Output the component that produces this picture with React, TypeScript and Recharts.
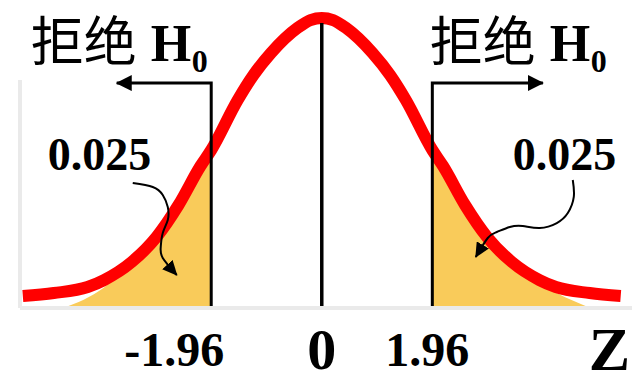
import React from 'react';
import {
  ComposedChart,
  Line,
  Area,
  XAxis,
  YAxis,
  ReferenceLine,
  ReferenceDot,
  Label,
} from 'recharts';

// Standard-normal style density curve (z, height)
const curveZ = [
  -5.3, -4.75, -4.15, -3.86, -3.37, -2.93, -2.54, -2.15, -1.96, -1.49, -1.21, -0.9, -0.43, -0.2, 0,
  0.2, 0.43, 0.9, 1.21, 1.49, 1.96, 2.15, 2.54, 2.93, 3.37, 3.86, 4.15, 4.75, 5.3,
];
const curveDensity = [
  0.0158, 0.0197, 0.0276, 0.0368, 0.0605, 0.0934, 0.1355, 0.1868, 0.2079, 0.2737, 0.3066, 0.3355,
  0.3685, 0.3789, 0.3816, 0.3789, 0.3685, 0.3355, 0.3066, 0.2737, 0.2079, 0.1868, 0.1355, 0.0934,
  0.0605, 0.0368, 0.0276, 0.0197, 0.0158,
];

// Rejection regions (alpha/2 = 0.025 in each tail)
const leftTailZ = [-4.58, -3.86, -3.37, -2.93, -2.54, -2.15, -1.96];
const leftTailDensity = [0, 0.027, 0.0605, 0.0934, 0.1355, 0.1868, 0.2079];
const rightTailZ = [1.96, 2.15, 2.54, 2.93, 3.37, 3.86, 4.77];
const rightTailDensity = [0.2079, 0.1868, 0.1355, 0.0934, 0.0605, 0.033, 0];

const criticalValue = 1.96;
const tailProbability = '0.025';
const xTicks = [-criticalValue, 0, criticalValue];
const yTicks = [0, 0.03, 0.06, 0.09, 0.12, 0.15, 0.18, 0.21, 0.24, 0.27, 0.3];

// Bracket arrows pointing into each rejection region
const rejectLeftPath = [
  { z: -1.96, v: 0 },
  { z: -1.96, v: 0.296 },
  { z: -3.635, v: 0.296 },
];
const rejectRightPath = [
  { z: 1.96, v: 0 },
  { z: 1.96, v: 0.296 },
  { z: 3.92, v: 0.296 },
];
const centerPath = [
  { z: 0, v: 0 },
  { z: 0, v: 0.375 },
];

// Curved pointers from the probability labels into the shaded tails
const pointerLeft = [
  { z: -3.351, v: 0.1645 },
  { z: -2.996, v: 0.1592 },
  { z: -2.819, v: 0.1487 },
  { z: -2.73, v: 0.1329 },
  { z: -2.73, v: 0.1158 },
  { z: -2.819, v: 0.0987 },
  { z: -2.855, v: 0.0803 },
  { z: -2.819, v: 0.0658 },
  { z: -2.571, v: 0.0434 },
];
const pointerRight = [
  { z: 4.45, v: 0.1684 },
  { z: 4.468, v: 0.1461 },
  { z: 4.362, v: 0.125 },
  { z: 4.167, v: 0.1118 },
  { z: 3.865, v: 0.1053 },
  { z: 3.564, v: 0.1079 },
  { z: 3.333, v: 0.1066 },
  { z: 3.103, v: 0.1 },
  { z: 2.943, v: 0.0921 },
  { z: 2.73, v: 0.0671 },
];

// Merge the series into one table keyed by z
const rows = (() => {
  const map = new Map<number, any>();
  const put = (z: number, key: string, val: number) => {
    const row = map.get(z) || { z };
    row[key] = val;
    map.set(z, row);
  };
  curveZ.forEach((z, i) => put(z, 'density', curveDensity[i]));
  leftTailZ.forEach((z, i) => put(z, 'tailL', leftTailDensity[i]));
  rightTailZ.forEach((z, i) => put(z, 'tailR', rightTailDensity[i]));
  return Array.from(map.values()).sort((a, b) => a.z - b.z);
})();

const SERIF = "'Liberation Serif', 'Times New Roman', serif";
const CJK = "'Noto Sans CJK SC', 'Noto Sans CJK JP', sans-serif";
const AXIS_GRAY = '#EAEAEA';
const TAIL_COLOR = '#F9CB5A';

const RejectLabel = (props: any) => {
  const { x, y } = props.viewBox;
  return (
    <g>
      <text x={x} y={y} fontFamily={CJK} fontSize={53} fill="#000">
        拒绝
      </text>
      <text x={x + 120} y={y} fontFamily={SERIF} fontWeight="bold" fontSize={52} fill="#000">
        H
      </text>
      <text x={x + 161} y={y + 11} fontFamily={SERIF} fontWeight="bold" fontSize={32} fill="#000">
        0
      </text>
    </g>
  );
};

const ProbLabel = (props: any) => {
  const { x, y } = props.viewBox;
  return (
    <text x={x} y={y} fontFamily={SERIF} fontWeight="bold" fontSize={46} fill="#000">
      {tailProbability}
    </text>
  );
};

const BottomTick = (props: any) => {
  const { x, y, payload } = props;
  const value = payload.value as number;
  const isZero = value === 0;
  const shift = value < 0 ? -37 : value > 0 ? -5 : 0;
  const text = isZero ? '0' : value < 0 ? `-${criticalValue}` : `${criticalValue}`;
  return (
    <text
      x={x + shift}
      y={y + (isZero ? 61 : 58)}
      textAnchor="middle"
      fontFamily={SERIF}
      fontWeight="bold"
      fontSize={isZero ? 58 : 48}
      fill="#000"
    >
      {text}
    </text>
  );
};

const AxisName = (props: any) => {
  const { x, y, width } = props.viewBox;
  return (
    <text
      x={x + width - 2}
      y={y + 62}
      textAnchor="end"
      fontFamily={SERIF}
      fontWeight="bold"
      fontSize={62}
      fill="#000"
    >
      Z
    </text>
  );
};

export default function App() {
  return (
    <div
      style={{
        position: 'fixed',
        left: 0,
        top: 0,
        width: 633,
        height: 376,
        background: '#ffffff',
        overflow: 'hidden',
      }}
    >
      <svg width={0} height={0} style={{ position: 'absolute' }}>
        <defs>
          <marker
            id="headBig"
            markerUnits="userSpaceOnUse"
            viewBox="0 0 16 16"
            markerWidth="16"
            markerHeight="16"
            refX="15"
            refY="8"
            orient="auto"
          >
            <path d="M0,0 L16,8 L0,16 Z" fill="#000" />
          </marker>
          <marker
            id="headSmall"
            markerUnits="userSpaceOnUse"
            viewBox="0 0 15 14"
            markerWidth="15"
            markerHeight="14"
            refX="14"
            refY="7"
            orient="auto"
          >
            <path d="M0,0 L15,7 L0,14 Z" fill="#000" />
          </marker>
        </defs>
      </svg>
      <ComposedChart
        width={633}
        height={376}
        data={rows}
        margin={{ top: 4, right: 1, bottom: 0, left: 0 }}
      >
        <XAxis
          dataKey="z"
          type="number"
          domain={[-5.35, 5.5]}
          allowDataOverflow
          ticks={xTicks}
          interval={0}
          tickLine={false}
          tickSize={0}
          tickMargin={0}
          tick={<BottomTick />}
          axisLine={{ stroke: AXIS_GRAY, strokeWidth: 4 }}
          height={68}
          label={<Label content={<AxisName />} />}
        />
        <YAxis
          type="number"
          domain={[0, 0.4]}
          allowDataOverflow
          ticks={yTicks}
          interval={0}
          width={20}
          axisLine={false}
          tick={false}
          tickSize={7}
          tickLine={{ stroke: AXIS_GRAY, strokeWidth: 3 }}
        />
        <ReferenceLine
          segment={[
            { x: -5.35, y: 0 },
            { x: -5.35, y: 0.3 },
          ]}
          stroke={AXIS_GRAY}
          strokeWidth={4}
          ifOverflow="visible"
        />
        <Area
          dataKey="tailL"
          type="monotone"
          stroke="none"
          fill={TAIL_COLOR}
          fillOpacity={1}
          connectNulls
          isAnimationActive={false}
        />
        <Area
          dataKey="tailR"
          type="monotone"
          stroke="none"
          fill={TAIL_COLOR}
          fillOpacity={1}
          connectNulls
          isAnimationActive={false}
        />
        <Line
          dataKey="density"
          type="monotone"
          stroke="#FF0000"
          strokeWidth={12}
          dot={false}
          connectNulls
          isAnimationActive={false}
        />
        <Line
          data={centerPath}
          dataKey="v"
          type="linear"
          stroke="#000"
          strokeWidth={3.5}
          dot={false}
          isAnimationActive={false}
        />
        <Line
          data={rejectLeftPath}
          dataKey="v"
          type="linear"
          stroke="#000"
          strokeWidth={3}
          dot={false}
          markerEnd="url(#headBig)"
          isAnimationActive={false}
        />
        <Line
          data={rejectRightPath}
          dataKey="v"
          type="linear"
          stroke="#000"
          strokeWidth={3}
          dot={false}
          markerEnd="url(#headBig)"
          isAnimationActive={false}
        />
        <Line
          data={pointerLeft}
          dataKey="v"
          type="natural"
          stroke="#000"
          strokeWidth={2}
          dot={false}
          markerEnd="url(#headSmall)"
          isAnimationActive={false}
        />
        <Line
          data={pointerRight}
          dataKey="v"
          type="natural"
          stroke="#000"
          strokeWidth={2}
          dot={false}
          markerEnd="url(#headSmall)"
          isAnimationActive={false}
        />
        <ReferenceDot
          x={-5.16}
          y={0.325}
          r={0}
          ifOverflow="visible"
          label={<Label content={<RejectLabel />} />}
        />
        <ReferenceDot
          x={1.915}
          y={0.325}
          r={0}
          ifOverflow="visible"
          label={<Label content={<RejectLabel />} />}
        />
        <ReferenceDot
          x={-4.858}
          y={0.1816}
          r={0}
          ifOverflow="visible"
          label={<Label content={<ProbLabel />} />}
        />
        <ReferenceDot
          x={3.387}
          y={0.1816}
          r={0}
          ifOverflow="visible"
          label={<Label content={<ProbLabel />} />}
        />
      </ComposedChart>
    </div>
  );
}
